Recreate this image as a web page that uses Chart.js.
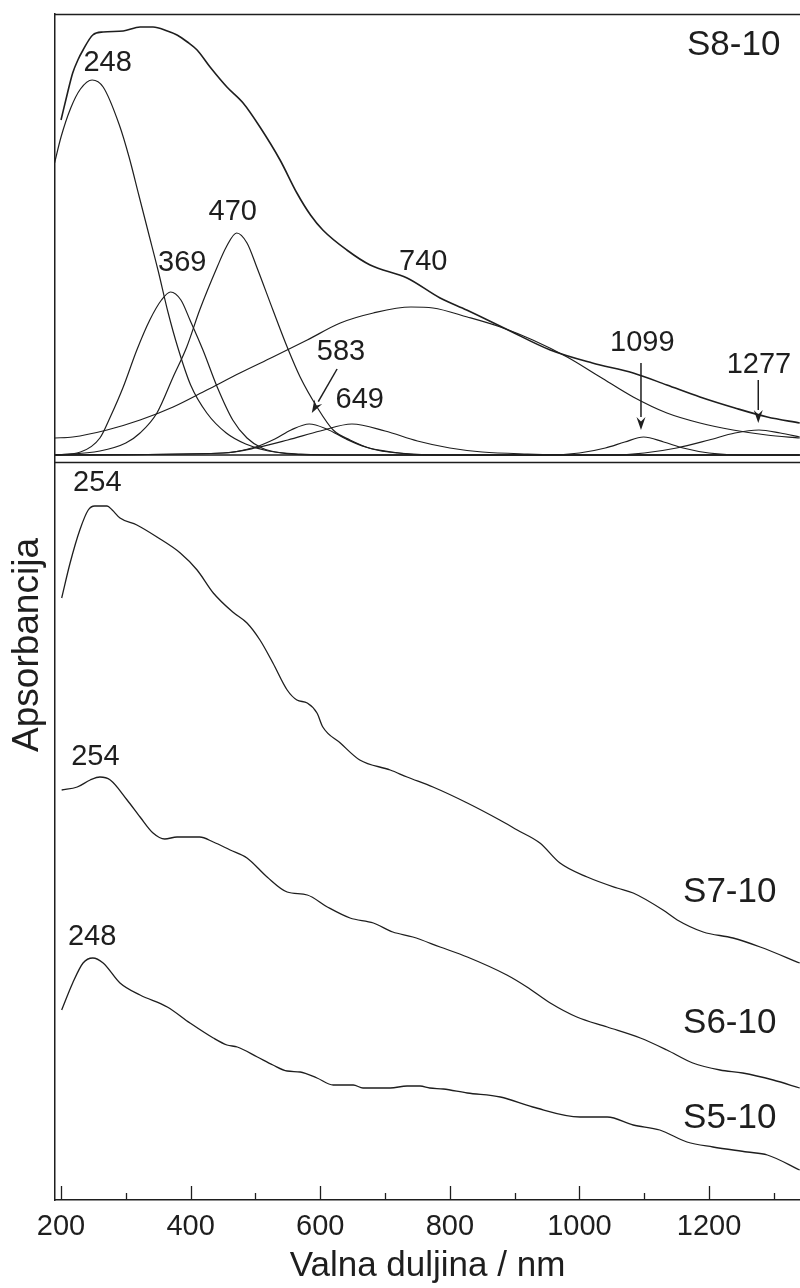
<!DOCTYPE html>
<html>
<head>
<meta charset="utf-8">
<script src="https://cdn.jsdelivr.net/npm/chart.js@4/dist/chart.umd.min.js"></script>
<style>
html,body{margin:0;padding:0;background:#fff;}
#wrap{width:800px;height:1288px;position:relative;}
</style>
</head>
<body>
<div id="wrap"><canvas id="c" width="800" height="1288"></canvas></div>
<script>
// ---------- DATA ----------
// x axis ticks (nm)
const tickValues = [200, 400, 600, 800, 1000, 1200];
const tickLabels = ['200', '400', '600', '800', '1000', '1200'];
const minorTickValues = [300, 500, 700, 900, 1100, 1300];

// Top panel: S8-10 measured spectrum (envelope)
const envWl  = [200,210,218,226,234,249,265,296,322,342,364,379,395,410,430,456,481,507,538,564,585,604,641,677,734,785,826,890,955,1020,1083,1135,1186,1240,1290,1340];
const envAbs = [.335,.362,.382,.395,.405,.420,.423,.424,.428,.428,.424,.420,.413,.405,.388,.368,.352,.328,.295,.262,.240,.225,.205,.190,.177,.157,.145,.125,.105,.092,.082,.070,.058,.047,.038,.032];

// Top panel: fitted component bands
const g248Wl  = [190,200,215,230,248,265,290,305,320,335,350,365,380,400,425,455,485,520,570,650,1340];
const g248Abs = [.292,.318,.347,.366,.375,.368,.330,.298,.260,.222,.184,.143,.108,.070,.042,.022,.011,.004,.001,0,0];

const g369Wl  = [190,230,260,276,296,317,337,355,369,385,399,419,441,465,487,510,540,600,1340];
const g369Abs = [0,.003,.017,.038,.068,.105,.135,.155,.163,.155,.135,.105,.068,.035,.017,.007,.002,0,0];

const g470Wl  = [190,260,300,322,348,373,394,414,441,455,471,487,502,527,549,569,595,620,646,680,720,800,1340];
const g470Abs = [0,.004,.012,.022,.042,.078,.108,.145,.188,.208,.222,.212,.188,.145,.108,.078,.048,.025,.015,.006,.002,0,0];

const g583Wl  = [190,450,500,530,555,583,610,640,670,710,760,1340];
const g583Abs = [0,.002,.008,.016,.025,.031,.026,.016,.008,.003,0,0];

const g649Wl  = [190,450,500,550,600,649,700,750,800,850,920,1000,1340];
const g649Abs = [0,.002,.007,.015,.024,.031,.024,.014,.007,.003,.001,0,0];

const g740Wl  = [190,218,271,322,373,425,476,527,580,631,682,740,774,827,878,928,981,1032,1083,1135,1186,1237,1289,1340];
const g740Abs = [.017,.018,.025,.035,.048,.065,.082,.098,.115,.132,.142,.148,.147,.138,.128,.115,.098,.078,.058,.042,.032,.025,.020,.017];

const g1099Wl  = [190,950,1000,1040,1070,1099,1130,1160,1200,1260,1340];
const g1099Abs = [0,0,.002,.007,.013,.018,.013,.007,.002,0,0];

const g1277Wl  = [190,1050,1100,1150,1200,1240,1277,1310,1340];
const g1277Abs = [0,0,.002,.007,.015,.022,.025,.022,.018];

// Bottom panel spectra
const s7Wl  = [201,214,229,242,252,271,279,291,317,348,384,410,435,465,487,507,527,549,564,580,595,604,631,661,708,734,774,827,877,904,939,970,1012,1058,1083,1129,1151,1191,1237,1279,1340];
const s7Abs = [.602,.637,.670,.690,.694,.694,.690,.682,.675,.663,.647,.630,.607,.588,.577,.560,.537,.510,.500,.497,.487,.473,.457,.440,.430,.423,.413,.397,.380,.370,.357,.337,.323,.312,.307,.290,.280,.268,.262,.253,.237];

const s6Wl  = [201,225,245,260,276,302,322,342,360,379,414,435,461,487,518,549,580,611,646,682,712,743,785,827,888,919,955,996,1043,1094,1135,1175,1217,1252,1299,1340];
const s6Abs = [.410,.413,.420,.423,.420,.400,.383,.367,.361,.363,.363,.358,.350,.342,.323,.308,.305,.293,.282,.277,.268,.263,.253,.243,.225,.213,.197,.183,.173,.162,.150,.137,.130,.127,.120,.112];

const s5Wl  = [201,218,234,249,265,291,322,364,399,435,456,472,503,527,549,569,595,620,651,666,708,734,754,769,790,827,878,928,1001,1043,1083,1124,1166,1206,1259,1290,1340];
const s5Abs = [.190,.217,.237,.242,.237,.217,.205,.193,.177,.162,.155,.153,.143,.135,.129,.128,.122,.115,.115,.112,.112,.114,.114,.112,.111,.107,.103,.093,.083,.083,.075,.070,.058,.053,.048,.045,.030];

// Annotation texts with their anchor (wavelength, absorbance)
const topLabels    = ['S8-10', '248', '470', '369', '740', '583', '649', '1099', '1277'];
const topLabelWl   = [1238, 272, 465, 387, 759, 632, 661, 1097, 1277];
const topLabelAbs  = [.410, .392, .243, .192, .193, .103, .055, .112, .090];
const bottomLabels   = ['254', '254', '248', 'S7-10', 'S6-10', 'S5-10'];
const bottomLabelWl  = [256, 253, 248, 1232, 1232, 1232];
const bottomLabelAbs = [.717, .443, .263, .308, .177, .082];

// Arrows (top panel): from -> to
const arrowFromWl  = [626, 1095, 1276];
const arrowFromAbs = [.086, .092, .075];
const arrowToWl    = [587, 1095, 1276];
const arrowToAbs   = [.042, .025, .032];

// ---------- LAYOUT / STYLE ----------
const FONT = "'Liberation Sans', Arial, Helvetica, sans-serif";
const INK = '#1e1e1e';
const panelSplit = 0.738;   // bottom-panel axis value where the two panels meet

function pts(xs, ys) { return xs.map((x, i) => ({x: x, y: ys[i]})); }
function ds(label, xs, ys, axis, width) {
  return {
    label: label, data: pts(xs, ys), yAxisID: axis,
    borderColor: INK, borderWidth: width, pointRadius: 0,
    cubicInterpolationMode: 'monotone', fill: false
  };
}

const datasets = [
  ds('S8-10', envWl, envAbs, 'y2', 1.6),
  ds('248', g248Wl, g248Abs, 'y2', 1.2),
  ds('369', g369Wl, g369Abs, 'y2', 1.2),
  ds('470', g470Wl, g470Abs, 'y2', 1.2),
  ds('583', g583Wl, g583Abs, 'y2', 1.2),
  ds('649', g649Wl, g649Abs, 'y2', 1.2),
  ds('740', g740Wl, g740Abs, 'y2', 1.2),
  ds('1099', g1099Wl, g1099Abs, 'y2', 1.2),
  ds('1277', g1277Wl, g1277Abs, 'y2', 1.2),
  ds('S7-10', s7Wl, s7Abs, 'y', 1.3),
  ds('S6-10', s6Wl, s6Abs, 'y', 1.3),
  ds('S5-10', s5Wl, s5Abs, 'y', 1.3)
];

const decor = {
  id: 'decor',
  afterDraw(chart) {
    const ctx = chart.ctx, a = chart.chartArea;
    const x = chart.scales.x, y = chart.scales.y, y2 = chart.scales.y2;
    ctx.save();
    ctx.strokeStyle = INK;
    ctx.lineWidth = 1.5;
    // top border
    ctx.beginPath(); ctx.moveTo(a.left, a.top + 0.5); ctx.lineTo(a.right, a.top + 0.5); ctx.stroke();
    // panel separator
    const ys = Math.round(y.getPixelForValue(panelSplit)) + 0.5;
    ctx.beginPath(); ctx.moveTo(a.left, ys); ctx.lineTo(a.right, ys); ctx.stroke();
    // inward ticks on the x axis
    ctx.lineWidth = 1.3;
    tickValues.forEach(v => {
      const px = Math.round(x.getPixelForValue(v)) + 0.5;
      ctx.beginPath(); ctx.moveTo(px, a.bottom); ctx.lineTo(px, a.bottom - 14); ctx.stroke();
    });
    minorTickValues.forEach(v => {
      const px = Math.round(x.getPixelForValue(v)) + 0.5;
      ctx.beginPath(); ctx.moveTo(px, a.bottom); ctx.lineTo(px, a.bottom - 7); ctx.stroke();
    });
    // annotation texts
    ctx.fillStyle = INK;
    ctx.textAlign = 'center';
    ctx.textBaseline = 'middle';
    topLabels.forEach((t, i) => {
      ctx.font = (t.startsWith('S') ? 35 : 29) + 'px ' + FONT;
      ctx.fillText(t, x.getPixelForValue(topLabelWl[i]), y2.getPixelForValue(topLabelAbs[i]));
    });
    bottomLabels.forEach((t, i) => {
      ctx.font = (t.startsWith('S') ? 35 : 29) + 'px ' + FONT;
      ctx.fillText(t, x.getPixelForValue(bottomLabelWl[i]), y.getPixelForValue(bottomLabelAbs[i]));
    });
    // arrows
    ctx.lineWidth = 1.5;
    arrowFromWl.forEach((w, i) => {
      const x0 = x.getPixelForValue(w), y0 = y2.getPixelForValue(arrowFromAbs[i]);
      const x1 = x.getPixelForValue(arrowToWl[i]), y1 = y2.getPixelForValue(arrowToAbs[i]);
      const ang = Math.atan2(y1 - y0, x1 - x0);
      const L = 13, W = 4.5;
      const bx = x1 - L * Math.cos(ang), by = y1 - L * Math.sin(ang);
      ctx.beginPath(); ctx.moveTo(x0, y0); ctx.lineTo(bx, by); ctx.stroke();
      ctx.beginPath();
      ctx.moveTo(x1, y1);
      ctx.lineTo(bx + W * Math.sin(ang), by - W * Math.cos(ang));
      ctx.lineTo(bx + 0.35 * L * Math.cos(ang), by + 0.35 * L * Math.sin(ang));
      ctx.lineTo(bx - W * Math.sin(ang), by + W * Math.cos(ang));
      ctx.closePath(); ctx.fill();
    });
    // y axis title
    ctx.save();
    ctx.translate(28, 645);
    ctx.rotate(-Math.PI / 2);
    ctx.font = '37px ' + FONT;
    ctx.fillText('Apsorbancija', 0, 0);
    ctx.restore();
    ctx.restore();
  }
};

new Chart(document.getElementById('c'), {
  type: 'line',
  data: { datasets: datasets },
  options: {
    responsive: false,
    devicePixelRatio: 1,
    animation: false,
    events: [],
    layout: { padding: { top: 14, right: 0, bottom: 0, left: 0 } },
    plugins: { legend: { display: false }, title: { display: false }, tooltip: { enabled: false } },
    scales: {
      x: {
        type: 'linear', position: 'bottom', min: 190.7, max: 1340.4,
        grid: { display: false, drawTicks: false },
        border: { display: true, color: INK, width: 1.5 },
        afterBuildTicks: s => { s.ticks = tickValues.map(v => ({ value: v })); },
        ticks: {
          autoSkip: false, maxRotation: 0, padding: 10, color: INK,
          font: { family: FONT, size: 29 },
          callback: (v) => tickLabels[tickValues.indexOf(v)]
        },
        title: { display: true, text: 'Valna duljina / nm', color: INK, font: { family: FONT, size: 35 }, padding: { top: 0, bottom: 1 } },
        afterFit: s => { s.height = 88; }
      },
      y: {
        type: 'linear', position: 'left', min: 0, max: 1.186,
        grid: { display: false, drawTicks: false },
        ticks: { display: false },
        border: { display: true, color: INK, width: 1.5 },
        afterFit: s => { s.width = 55; }
      },
      y2: {
        type: 'linear', position: 'left', min: -0.745, max: 0.441,
        display: false
      }
    }
  },
  plugins: [decor]
});
</script>
</body>
</html>
